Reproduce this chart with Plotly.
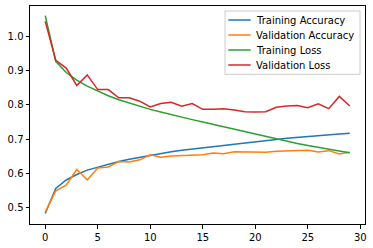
import plotly.graph_objects as go

epochs = list(range(30))
train_acc = [0.482, 0.555, 0.580, 0.596, 0.609, 0.618, 0.627, 0.634, 0.641, 0.647,
             0.653, 0.659, 0.663, 0.667, 0.670, 0.673, 0.677, 0.681, 0.685, 0.689,
             0.693, 0.696, 0.699, 0.702, 0.705, 0.707, 0.710, 0.712, 0.715, 0.717]
val_acc = [0.486, 0.548, 0.565, 0.611, 0.580, 0.615, 0.618, 0.634, 0.633, 0.639,
           0.654, 0.647, 0.650, 0.651, 0.652, 0.654, 0.659, 0.657, 0.663, 0.663,
           0.663, 0.661, 0.664, 0.665, 0.664, 0.667, 0.662, 0.666, 0.656, 0.661]
train_loss = [1.062, 0.928, 0.895, 0.873, 0.855, 0.840, 0.827, 0.815, 0.805, 0.796,
              0.787, 0.779, 0.771, 0.764, 0.757, 0.750, 0.743, 0.735, 0.728, 0.720,
              0.713, 0.706, 0.699, 0.693, 0.687, 0.681, 0.675, 0.670, 0.665, 0.660]
val_loss = [1.045, 0.931, 0.908, 0.857, 0.888, 0.845, 0.845, 0.821, 0.821, 0.811,
            0.794, 0.804, 0.808, 0.796, 0.804, 0.787, 0.787, 0.789, 0.785, 0.780,
            0.779, 0.780, 0.793, 0.797, 0.798, 0.792, 0.803, 0.789, 0.825, 0.797]

names = ["Training Accuracy", "Validation Accuracy", "Training Loss", "Validation Loss"]
colors = ["#1f77b4", "#ff7f0e", "#2ca02c", "#d62728"]
values = [train_acc, val_acc, train_loss, val_loss]
x_ticks = [0, 5, 10, 15, 20, 25, 30]
y_ticks = [0.5, 0.6, 0.7, 0.8, 0.9, 1.0]
y_tick_labels = ["0.5", "0.6", "0.7", "0.8", "0.9", "1.0"]

W, H = 373, 248
L, R, T, B = 30, 8, 6, 24
PW, PH = W - L - R, H - T - B


def px(xp):
    return (xp - L) / PW


def py(yp):
    return 1 - (yp - T) / PH


fig = go.Figure()
for name, vals, color in zip(names, values, colors):
    fig.add_trace(go.Scatter(x=epochs, y=vals, mode="lines", name=name,
                             line=dict(color=color, width=1.5), showlegend=False))

axis_common = dict(showline=True, linecolor="black", linewidth=1, mirror=True,
                   ticks="outside", ticklen=3.5, tickwidth=1, tickcolor="black",
                   showgrid=False, zeroline=False, automargin=False,
                   tickfont=dict(family="DejaVu Sans", size=10, color="black"))

# legend (drawn as shapes and text, matplotlib style)
shapes = [dict(type="rect", xref="paper", yref="paper",
               x0=px(225), x1=px(360), y0=py(74.3), y1=py(11),
               line=dict(color="#cccccc", width=1),
               fillcolor="rgba(255,255,255,0.8)", layer="above")]
annotations = []
row_y = [20, 35, 50, 65]
for name, color, ry in zip(names, colors, row_y):
    shapes.append(dict(type="line", xref="paper", yref="paper",
                       x0=px(228.3), x1=px(250.7), y0=py(ry), y1=py(ry),
                       line=dict(color=color, width=1.5), layer="above"))
    annotations.append(dict(text=name, xref="paper", yref="paper",
                            x=px(255), y=py(ry), xanchor="left", yanchor="middle",
                            showarrow=False, borderpad=0,
                            font=dict(family="DejaVu Sans", size=10, color="black")))

fig.update_layout(
    width=W, height=H,
    margin=dict(l=L, r=R, t=T, b=B, autoexpand=False),
    paper_bgcolor="white", plot_bgcolor="white",
    font=dict(family="DejaVu Sans", size=10, color="black"),
    xaxis=dict(range=[-1.45, 30.45], tickvals=x_ticks, **axis_common),
    yaxis=dict(range=[0.451, 1.090], tickvals=y_ticks, ticktext=y_tick_labels, **axis_common),
    shapes=shapes,
    annotations=annotations,
    showlegend=False,
)

fig.write_html("out.html", config={"displayModeBar": False},
               post_script="document.body.style.margin='0';document.body.style.overflow='hidden';")
